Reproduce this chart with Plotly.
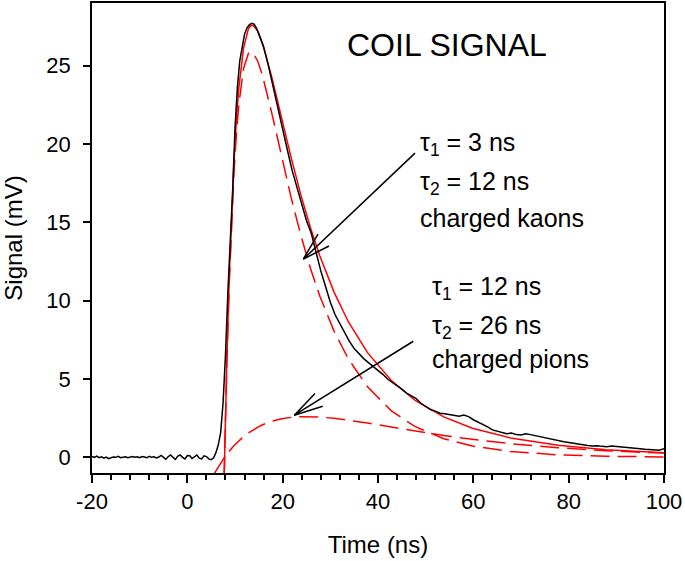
import plotly.graph_objects as go

# ---- measured coil signal (black) ----
sig_t = [-20, -19.5, -19, -18.5, -18, -17.5, -17, -16.5, -16, -15.5, -15, -14.5, -14, -13.5, -13, -12.5,
         -12, -11.5, -11, -10.5, -10, -9.5, -9, -8.5, -8, -7.5, -7, -6.5, -6, -5.5, -5, -4.5, -4, -3.5,
         -3, -2.5, -2, -1.5, -1, -0.5, 0, 0.5, 1, 1.5, 2, 2.5, 3, 3.5, 4, 4.5, 5, 5.5, 6, 6.5, 7, 7.5,
         8, 8.5, 9, 9.5, 10, 10.5, 11, 11.5, 12, 12.5, 13, 13.5, 14, 14.5, 15, 16, 17, 18, 19, 20, 21,
         22, 23, 24, 25, 26, 27, 28, 29, 30, 31, 32, 33, 34, 35, 36, 37, 38, 39, 40, 41, 42, 43, 44,
         45, 46, 47, 48, 49, 50, 51, 52, 53, 54, 55, 56, 57, 58, 59, 60, 61, 62, 63, 64, 65, 66, 67,
         68, 69, 70, 71, 72, 73, 74, 75, 76, 77, 78, 79, 80, 81, 82, 83, 84, 85, 86, 87, 88, 89, 90,
         91, 92, 93, 94, 95, 96, 97, 98, 99, 100]
sig_v = [0.05, 0.0, 0.08, -0.02, 0.03, -0.05, 0.02, -0.08, -0.03, 0.02, 0.0, 0.06, -0.02, 0.0, 0.04, -0.03,
         0.02, 0.05, 0.0, 0.03, -0.02, 0.05, 0.02, -0.03, 0.06, 0.0, 0.03, -0.04, 0.02, 0.12, 0.0, -0.12, 0.05, 0.15,
         0.0, -0.13, 0.08, 0.15, 0.0, -0.1, 0.12, 0.1, -0.08, 0.05, 0.15, -0.05, -0.1, 0.1, 0.05, -0.1, -0.15, -0.05, 0.3, 0.8, 1.6, 3.5,
         6.5, 10.5, 13.5, 17.0, 21.0, 23.6, 25.3, 26.3, 27.0, 27.4, 27.6, 27.7, 27.65, 27.4, 27.0, 26.2, 25.0, 23.6, 22.2, 21.0, 19.6,
         18.3, 17.2, 16.1, 15.1, 14.3, 13.0, 11.9, 10.9, 9.9, 9.1, 8.5, 7.9, 7.4, 6.95, 6.6, 6.3, 6.05, 5.8, 5.6, 5.3, 5.0, 4.8, 4.55,
         4.35, 4.1, 3.95, 3.75, 3.45, 3.25, 3.05, 2.95, 2.82, 2.78, 2.72, 2.68, 2.62, 2.7, 2.6, 2.4, 2.25, 2.15, 1.95, 1.75, 1.65, 1.6, 1.5,
         1.55, 1.45, 1.42, 1.5, 1.45, 1.38, 1.3, 1.25, 1.2, 1.12, 1.05, 1.0, 0.95, 0.9, 0.82, 0.78, 0.75, 0.72, 0.74, 0.7, 0.68, 0.72, 0.7,
         0.66, 0.62, 0.6, 0.58, 0.55, 0.52, 0.5, 0.48, 0.45, 0.55]

# ---- fitted curves (red) ----
fit_t = [7.6, 7.8, 8.3, 8.8, 9.3, 9.8, 10.3, 10.8, 11.8, 12.8, 13.3, 13.8, 14.8, 15.8, 17.8, 19.8, 21.8,
         23.8, 25.8, 27.8, 30.8, 33.8, 37.8, 42.8, 47.8, 53.8, 59.8, 67.8, 77.8, 87.8, 100]
fit_total = [-2.94, 0, 6.38, 11.55, 15.70, 19.00, 21.58, 23.57, 26.14, 27.33, 27.55, 27.58, 27.20, 26.41, 24.17,
             21.62, 19.10, 16.77, 14.69, 12.85, 10.53, 8.64, 6.68, 4.90, 3.63, 2.58, 1.86, 1.24, 0.77, 0.49, 0.29]
fit_kaon = [-2.86, 0, 6.18, 11.15, 15.12, 18.25, 20.68, 22.52, 24.82, 25.78, 25.89, 25.82, 25.27, 24.33, 21.86,
            19.16, 16.55, 14.18, 12.09, 10.28, 8.04, 6.27, 4.50, 2.97, 1.96, 1.19, 0.72, 0.37, 0.16, 0.07, 0.025]
pion_t = [5.6, 6.8, 7.8, 8.3, 8.8, 9.3, 9.8, 10.3, 10.8, 11.8, 12.8, 13.8, 14.8, 15.8, 17.8, 19.8, 21.8,
          23.8, 25.8, 27.8, 30.8, 33.8, 37.8, 42.8, 47.8, 53.8, 59.8, 67.8, 77.8, 87.8, 100]
fit_pion = [-1.06, -0.45, 0, 0.20, 0.40, 0.58, 0.75, 0.90, 1.05, 1.32, 1.55, 1.76, 1.93, 2.08, 2.31, 2.46, 2.55,
            2.59, 2.60, 2.57, 2.49, 2.37, 2.19, 1.93, 1.68, 1.39, 1.15, 0.87, 0.61, 0.42, 0.27]

x_ticks = [-20, 0, 20, 40, 60, 80, 100]
x_tick_labels = ["-20", "0", "20", "40", "60", "80", "100"]
y_ticks = [0, 5, 10, 15, 20, 25]

FONT = "Liberation Sans, Arial, sans-serif"
RED = "#ff0000"
DASH = "19px,8px"

fig = go.Figure()
fig.add_trace(go.Scatter(x=pion_t, y=fit_pion, mode="lines", line=dict(color=RED, width=1.5, dash=DASH)))
fig.add_trace(go.Scatter(x=fit_t, y=fit_kaon, mode="lines", line=dict(color=RED, width=1.5, dash=DASH)))
fig.add_trace(go.Scatter(x=fit_t, y=fit_total, mode="lines", line=dict(color=RED, width=1.5)))
fig.add_trace(go.Scatter(x=sig_t, y=sig_v, mode="lines", line=dict(color="black", width=1.5)))

# arrows (open arrowheads)
arrows = [
    ((47.76, 19.42), (24.33, 12.65), (27.41, 14.25), (29.72, 13.49)),
    ((47.41, 7.41), (22.44, 2.69), (26.78, 4.07), (28.40, 3.26)),
]
for start, tip, b1, b2 in arrows:
    for p in (start, b1, b2):
        fig.add_shape(type="line", x0=p[0], y0=p[1], x1=tip[0], y1=tip[1], xref="x", yref="y",
                      line=dict(color="black", width=1.5))

def label(x, y, text, size=25):
    fig.add_annotation(x=x, y=y, xref="x", yref="y", text=text, showarrow=False,
                       xanchor="left", yanchor="middle", font=dict(family=FONT, size=size, color="black"))

label(33.08, 26.33, "COIL SIGNAL", size=32)
label(48.39, 20.0, "τ<sub>1</sub> = 3 ns")
label(48.39, 17.5, "τ<sub>2</sub> = 12 ns")
label(48.39, 15.25, "charged kaons")
label(50.91, 10.8, "τ<sub>1</sub> = 12 ns")
label(50.91, 8.3, "τ<sub>2</sub> = 26 ns")
label(50.91, 6.3, "charged pions")

fig.update_layout(
    width=685, height=561,
    margin=dict(l=92, r=21, t=1, b=88),
    paper_bgcolor="white", plot_bgcolor="white",
    showlegend=False,
    font=dict(family=FONT, color="black"),
    xaxis=dict(range=[-20, 100], tickvals=x_ticks, ticktext=x_tick_labels, ticks="outside", ticklen=8, tickwidth=1.5,
               tickcolor="black", showline=True, linecolor="black", linewidth=1.5, mirror=True,
               showgrid=False, zeroline=False, tickfont=dict(size=22),
               minor=dict(dtick=4, tick0=0, ticks="outside", ticklen=5, tickwidth=1.5, tickcolor="black", showgrid=False),
               title=dict(text="Time (ns)", font=dict(size=24), standoff=23)),
    yaxis=dict(range=[-1, 29], tickvals=y_ticks, ticks="outside", ticklen=7, tickwidth=1.5,
               tickcolor="black", showline=True, linecolor="black", linewidth=1.5, mirror=True,
               showgrid=False, zeroline=False, tickfont=dict(size=22), ticklabelstandoff=8,
               title=dict(text="Signal (mV)", font=dict(size=24), standoff=18)),
)

fig.write_html("out.html", config={"displayModeBar": False},
               post_script="document.body.style.margin='0';")
